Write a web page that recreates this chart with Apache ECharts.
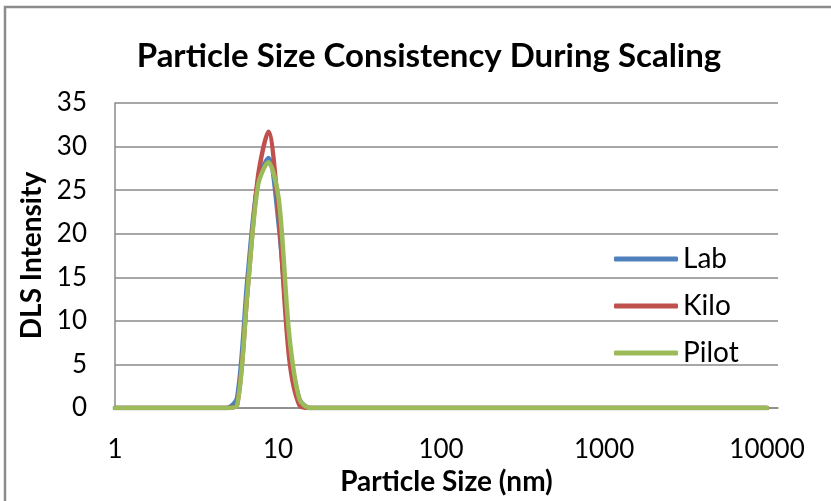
<!DOCTYPE html>
<html>
<head>
<meta charset="utf-8">
<title>Particle Size Consistency During Scaling</title>
<script src="https://cdn.jsdelivr.net/npm/echarts@6/dist/echarts.min.js"></script>
<style>
  html, body { margin: 0; padding: 0; background: #ffffff; }
  #chart { width: 831px; height: 501px; }
</style>
</head>
<body>
<div id="chart"></div>
<script>
// Particle size bins (nm), log-spaced
const sizes = [1, 1.117, 1.294, 1.499, 1.736, 2.010, 2.328, 2.696, 3.122, 3.615,
  4.187, 4.849, 5.615, 6.503, 7.531, 8.721, 10.10, 11.70, 13.54, 15.69,
  18.17, 21.04, 24.36, 28.21, 32.67, 37.84, 43.82, 50.75, 58.77, 68.06,
  78.82, 91.28, 105.7, 122.4, 141.8, 164.2, 190.1, 220.2, 255.0, 295.3,
  342.0, 396.1, 458.7, 531.2, 615.1, 712.4, 825.0, 955.4, 1106, 1281,
  1484, 1718, 1990, 2305, 2669, 3091, 3580, 4145, 4801, 5560,
  6439, 7456, 8635, 10000];

// DLS intensity (%) per bin
const lab = [0, 0, 0, 0, 0, 0, 0, 0, 0, 0,
  0, 0, 1.2, 15.0, 26.0, 28.7, 21.0, 7.5, 1.0, 0,
  0, 0, 0, 0, 0, 0, 0, 0, 0, 0,
  0, 0, 0, 0, 0, 0, 0, 0, 0, 0,
  0, 0, 0, 0, 0, 0, 0, 0, 0, 0,
  0, 0, 0, 0, 0, 0, 0, 0, 0, 0,
  0, 0, 0, 0];
const kilo = [0, 0, 0, 0, 0, 0, 0, 0, 0, 0,
  0, 0, 0.4, 13.5, 26.5, 31.7, 22.0, 5.8, 0.3, 0,
  0, 0, 0, 0, 0, 0, 0, 0, 0, 0,
  0, 0, 0, 0, 0, 0, 0, 0, 0, 0,
  0, 0, 0, 0, 0, 0, 0, 0, 0, 0,
  0, 0, 0, 0, 0, 0, 0, 0, 0, 0,
  0, 0, 0, 0];
const pilot = [0, 0, 0, 0, 0, 0, 0, 0, 0, 0,
  0, 0, 0.3, 13.5, 25.5, 28.2, 24.0, 8.5, 1.0, 0,
  0, 0, 0, 0, 0, 0, 0, 0, 0, 0,
  0, 0, 0, 0, 0, 0, 0, 0, 0, 0,
  0, 0, 0, 0, 0, 0, 0, 0, 0, 0,
  0, 0, 0, 0, 0, 0, 0, 0, 0, 0,
  0, 0, 0, 0];

const seriesNames = ['Lab', 'Kilo', 'Pilot'];
const seriesColors = ['#4F81BD', '#C0504D', '#9BBB59'];
const seriesValues = [lab, kilo, pilot];

const FONT = 'Lato, "Open Sans", sans-serif';
const AXIS_GRAY = '#8a8a8a';

const chart = echarts.init(document.getElementById('chart'), null, { renderer: 'canvas' });

const isDecade = v => Math.abs(Math.log10(v) - Math.round(Math.log10(v))) < 1e-6;

chart.setOption({
  animation: false,
  backgroundColor: '#ffffff',
  title: {
    text: 'Particle Size Consistency During Scaling',
    left: 424,
    top: 35,
    textAlign: 'center',
    textStyle: { fontFamily: FONT, fontWeight: 'bold', fontSize: 33, color: '#000000' }
  },
  graphic: [{
    type: 'rect',
    shape: { x: 5, y: 7, width: 900, height: 600 },
    style: { fill: 'none', stroke: '#8c8c8c', lineWidth: 2.5 },
    silent: true
  }],
  legend: {
    orient: 'vertical',
    left: 609,
    top: 240,
    itemWidth: 64,
    itemHeight: 5,
    itemGap: 19,
    icon: 'roundRect',
    textStyle: { fontFamily: FONT, fontSize: 28, color: '#000000' },
    data: seriesNames
  },
  grid: { left: 115, top: 103, width: 663, height: 307, containLabel: false },
  xAxis: {
    type: 'log',
    logBase: 10,
    min: 1,
    max: 11670,
    name: 'Particle Size (nm)',
    nameLocation: 'middle',
    nameGap: 60,
    nameTextStyle: { fontFamily: FONT, fontWeight: 'bold', fontSize: 28, color: '#000000' },
    axisLine: { show: true, lineStyle: { color: AXIS_GRAY, width: 1.5 } },
    axisTick: { show: false },
    splitLine: { show: false },
    axisLabel: {
      margin: 29,
      fontFamily: FONT,
      fontSize: 26,
      color: '#000000',
      showMaxLabel: false,
      formatter: v => (isDecade(v) ? String(Math.round(v)) : '')
    }
  },
  yAxis: {
    type: 'value',
    min: 0,
    max: 35,
    interval: 5,
    name: 'DLS Intensity',
    nameLocation: 'middle',
    nameGap: 68,
    nameRotate: 90,
    nameTextStyle: { fontFamily: FONT, fontWeight: 'bold', fontSize: 28, color: '#000000' },
    axisLine: { show: true, lineStyle: { color: AXIS_GRAY, width: 1.5 } },
    axisTick: { show: false },
    splitLine: { show: true, lineStyle: { color: AXIS_GRAY, width: 1.5 } },
    axisLabel: { margin: 28, fontFamily: FONT, fontSize: 26, color: '#000000' }
  },
  series: seriesNames.map((name, i) => ({
    name: name,
    type: 'line',
    smooth: 0.3,
    showSymbol: false,
    symbol: 'none',
    color: seriesColors[i],
    lineStyle: { width: 4.5, color: seriesColors[i], cap: 'round', join: 'round' },
    data: sizes.map((s, k) => [s, seriesValues[i][k]])
  }))
});
</script>
</body>
</html>
